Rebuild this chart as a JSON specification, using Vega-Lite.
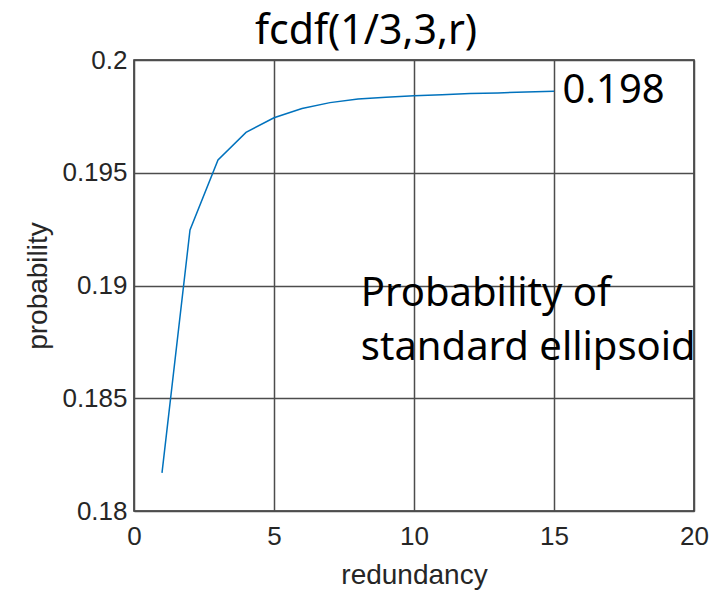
{
  "$schema": "https://vega.github.io/schema/vega-lite/v6.json",
  "width": 560,
  "height": 451,
  "autosize": {"type": "none"},
  "padding": {"left": 134, "top": 60, "right": 17, "bottom": 81},
  "background": "white",
  "title": {
    "text": "fcdf(1/3,3,r)",
    "font": "Noto Sans",
    "fontSize": 41,
    "fontWeight": "normal",
    "color": "black",
    "anchor": "start",
    "dx": 230,
    "offset": -6
  },
  "config": {
    "view": {"stroke": "#262626", "strokeWidth": 1.5},
    "axis": {
      "labelFont": "Liberation Sans",
      "titleFont": "Liberation Sans",
      "labelFontSize": 26,
      "titleFontSize": 28,
      "titleFontWeight": "normal",
      "labelColor": "#262626",
      "titleColor": "#262626",
      "gridColor": "#4d4d4d",
      "gridWidth": 1.5,
      "domain": false,
      "ticks": false
    }
  },
  "datasets": {
    "curve": [
      {"r": 1, "p": 0.18169},
      {"r": 2, "p": 0.19246},
      {"r": 3, "p": 0.19557},
      {"r": 4, "p": 0.19679},
      {"r": 5, "p": 0.19744},
      {"r": 6, "p": 0.19785},
      {"r": 7, "p": 0.19811},
      {"r": 8, "p": 0.19827},
      {"r": 9, "p": 0.19835},
      {"r": 10, "p": 0.19842},
      {"r": 11, "p": 0.19846},
      {"r": 12, "p": 0.19851},
      {"r": 13, "p": 0.19854},
      {"r": 14, "p": 0.19858},
      {"r": 15, "p": 0.19861}
    ],
    "notes": [
      {"x": 15.3, "y": 0.19809, "label": "0.198"},
      {"x": 8.1, "y": 0.18908, "label": "Probability of"},
      {"x": 8.1, "y": 0.18669, "label": "standard ellipsoid"}
    ]
  },
  "layer": [
    {
      "data": {"name": "curve"},
      "mark": {"type": "line", "color": "#0072BD", "strokeWidth": 1.5},
      "encoding": {
        "x": {
          "field": "r", "type": "quantitative", "title": "redundancy",
          "scale": {"domain": [0, 20], "nice": false},
          "axis": {"values": [0, 5, 10, 15, 20], "labelPadding": 12, "titlePadding": 12, "labelFlush": false}
        },
        "y": {
          "field": "p", "type": "quantitative", "title": "probability",
          "scale": {"domain": [0.18, 0.2], "nice": false, "zero": false},
          "axis": {"values": [0.18, 0.185, 0.19, 0.195, 0.2], "format": "~g", "labelPadding": 7, "titlePadding": 9, "labelFlush": false}
        }
      }
    },
    {
      "data": {"name": "notes"},
      "mark": {"type": "text", "align": "left", "baseline": "alphabetic", "font": "Noto Sans", "fontSize": 40, "color": "black", "clip": false},
      "encoding": {
        "x": {"field": "x", "type": "quantitative"},
        "y": {"field": "y", "type": "quantitative"},
        "text": {"field": "label"}
      }
    }
  ]
}
